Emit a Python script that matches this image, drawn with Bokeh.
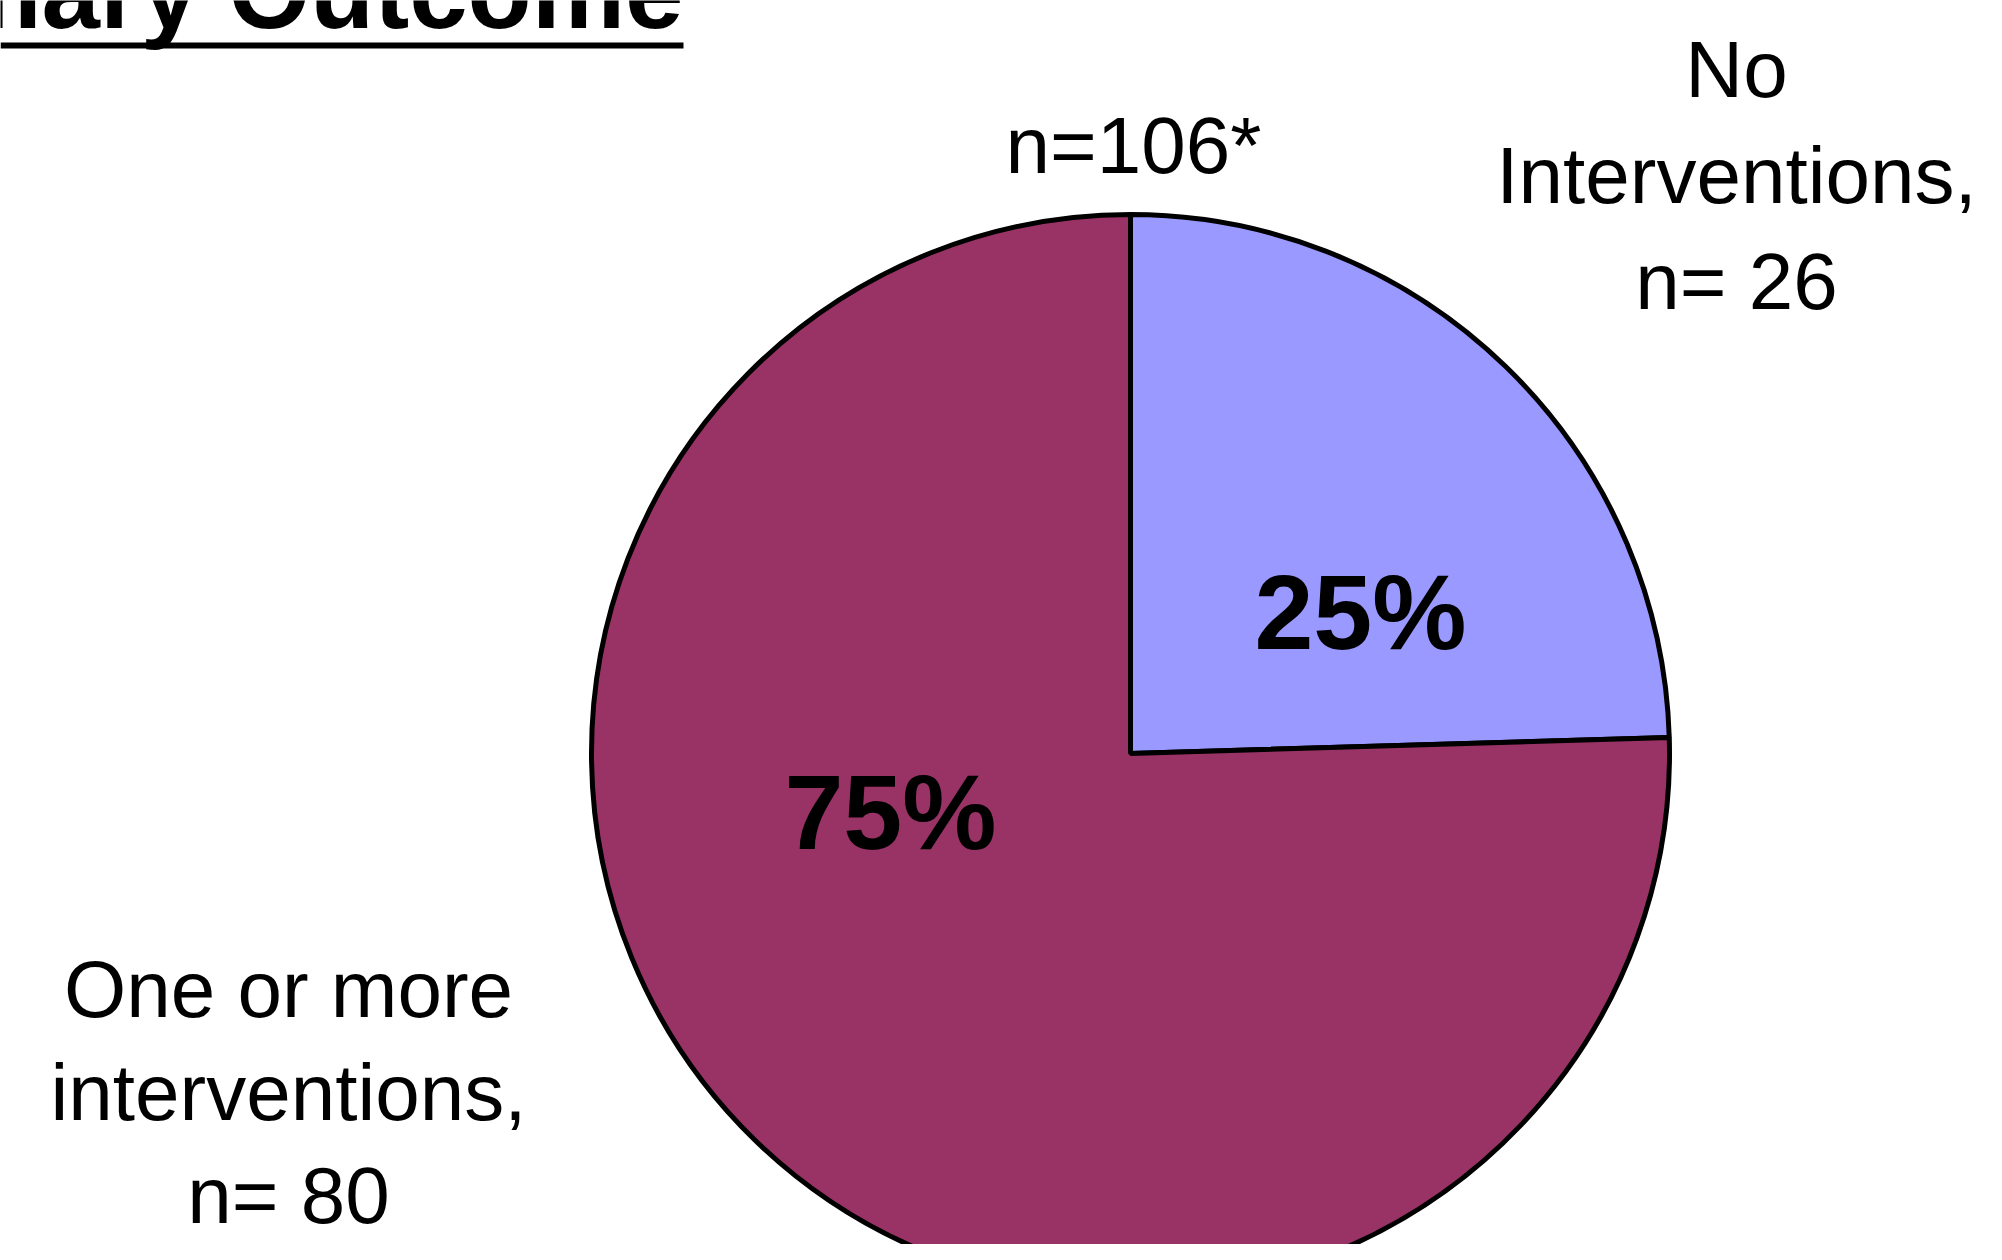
import math
from bokeh.plotting import figure
from bokeh.models import Range1d, ColumnDataSource
from bokeh.core.properties import value
from bokeh.embed import file_html
from bokeh.resources import INLINE

# ---------------- data ----------------
title_text = "Primary Outcome"
categories = ["No Interventions", "One or more interventions"]
counts = [26, 80]
slice_colors = ["#9999FF", "#993366"]
label_heads = [["No", "Interventions,"], ["One or more", "interventions,"]]

total = sum(counts)
percent_labels = [f"{round(c / total * 100)}%" for c in counts]
count_labels = [f"n= {c}" for c in counts]
total_label = f"n={total}*"

# ---------------- layout (pixel coordinates, y downwards) ----------------
FIG_W, FIG_H = 1986, 1244
BASE_SHIFT = 0.36  # em correction so that the given y is the visible baseline


def sy(y_px):
    return FIG_H - y_px


def sbase(y_px, size):
    return sy(y_px - BASE_SHIFT * size)


CX, CY, R = 1130, 753, 539
FONT = "Liberation Sans"
LABEL_SIZE = 80
PCT_SIZE = 106
TITLE_SIZE = 105

p = figure(width=FIG_W, height=FIG_H, output_backend="svg", toolbar_location=None,
           x_range=Range1d(0, FIG_W), y_range=Range1d(0, FIG_H),
           x_axis_type=None, y_axis_type=None, min_border=0)
p.grid.visible = False
p.outline_line_color = None
p.background_fill_color = "white"
p.border_fill_color = "white"

# ---------------- pie ----------------
angles = [c / total * 2 * math.pi for c in counts]
ends, starts = [], []
cur = math.pi / 2
for a in angles:
    ends.append(cur)
    starts.append(cur - a)
    cur -= a

src = ColumnDataSource(dict(cat=categories, start=starts, end=ends, color=slice_colors))
p.wedge(x=CX, y=sy(CY), radius=R, start_angle="start", end_angle="end", direction="anticlock",
        fill_color="color", line_color="black", line_width=5, source=src)

# ---------------- percent labels ----------------
pct_pos = [(1360, 650), (890, 850)]
p.text(x=[q[0] for q in pct_pos], y=[sbase(q[1], PCT_SIZE) for q in pct_pos], text=percent_labels,
       text_font=value(FONT), text_font_style="bold", text_font_size=f"{PCT_SIZE}px",
       text_align="center", text_baseline="alphabetic", text_color="black")

# ---------------- category labels ----------------
label_centers = [1736, 288]
label_first_baselines = [98, 1018]
LINE_STEPS = [106, 103]
lx, ly, lt = [], [], []
for i in range(len(categories)):
    lines = label_heads[i] + [count_labels[i]]
    for j, t in enumerate(lines):
        lx.append(label_centers[i])
        ly.append(sbase(label_first_baselines[i] + j * LINE_STEPS[i], LABEL_SIZE))
        lt.append(t)
lx.append(1133)
ly.append(sbase(174, LABEL_SIZE))
lt.append(total_label)
p.text(x=lx, y=ly, text=lt, text_font=value(FONT), text_font_size=f"{LABEL_SIZE}px",
       text_align="center", text_baseline="alphabetic", text_color="black")

# ---------------- title (underlined, partly off-page) ----------------
TITLE_RIGHT, TITLE_BASE = 683, 29
p.text(x=[TITLE_RIGHT], y=[sbase(TITLE_BASE, TITLE_SIZE)], text=[title_text], text_font=value(FONT),
       text_font_style="bold", text_font_size=f"{TITLE_SIZE}px", text_align="right",
       text_baseline="alphabetic", text_color="black")
p.segment(x0=[0], y0=[sy(45)], x1=[TITLE_RIGHT], y1=[sy(45)], line_color="black", line_width=6)

open("out.html", "w").write(file_html(p, INLINE))
